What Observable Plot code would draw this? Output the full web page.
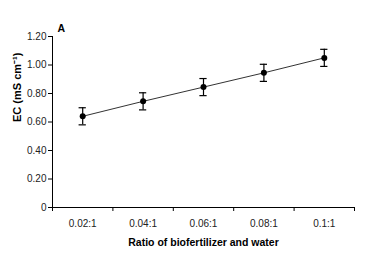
<!DOCTYPE html>
<html><head><meta charset="utf-8">
<script src="https://cdn.jsdelivr.net/npm/d3@7"></script>
<script src="https://cdn.jsdelivr.net/npm/@observablehq/plot@0.6"></script>
<style>body{margin:0;background:#fff;} svg{display:block;}</style>
</head><body><div id="chart"></div>
<script>
const ratios = ["0.02:1", "0.04:1", "0.06:1", "0.08:1", "0.1:1"];
const ec = [0.64, 0.745, 0.845, 0.945, 1.05];
const err = [0.06, 0.06, 0.06, 0.06, 0.06];
const yTicks = [0, 0.2, 0.4, 0.6, 0.8, 1.0, 1.2];

const capHalf = 0.06; // cap half-width in x units (style)
const data = ratios.map((r, i) => ({r, i: i + 0.5, v: ec[i], lo: ec[i] - err[i], hi: ec[i] + err[i]}));
const caps = data.flatMap(d => [{x1: d.i - capHalf, x2: d.i + capHalf, y: d.lo}, {x1: d.i - capHalf, x2: d.i + capHalf, y: d.hi}]);
const font = "'Liberation Sans Narrow', 'Liberation Sans', Arial, sans-serif";

const chart = Plot.plot({
  width: 365, height: 256,
  marginLeft: 52, marginRight: 11, marginTop: 36, marginBottom: 49,
  style: {fontFamily: font, fontSize: "10px", color: "#000", background: "#fff"},
  x: {type: "linear", domain: [0, ratios.length], axis: null},
  y: {domain: [0, 1.2], axis: null},
  marks: [
    Plot.axisY({ticks: yTicks, tickSize: 4, tickPadding: 2, tickFormat: d => d === 0 ? "0" : d3.format(".2f")(d), label: null, fontSize: 10, fill: "#222"}),
    Plot.axisX({ticks: d3.range(ratios.length + 1), tickSize: 4, tickFormat: () => "", label: null}),
    Plot.axisX({ticks: data.map(d => d.i), tickSize: 0, tickPadding: 12, tickFormat: (d, k) => ratios[k], label: null, fontSize: 10, fill: "#222"}),
    Plot.ruleX([0]),
    Plot.ruleY([0]),
    Plot.line(data, {x: "i", y: "v", stroke: "#333", strokeWidth: 1}),
    Plot.ruleX(data, {x: "i", y1: "lo", y2: "hi", stroke: "#000", strokeWidth: 1.2}),
    Plot.ruleY(caps, {x1: "x1", x2: "x2", y: "y", stroke: "#000", strokeWidth: 1.2}),
    Plot.dot(data, {x: "i", y: "v", r: 3, fill: "#000"}),
    Plot.text(["Ratio of biofertilizer and water"], {frameAnchor: "bottom", dy: 38, fontWeight: "bold", fontSize: 10.5}),
    Plot.text(["EC (mS cm⁻¹)"], {frameAnchor: "left", dx: -35, rotate: -90, fontWeight: "bold", fontSize: 11}),
    Plot.text(["A"], {frameAnchor: "top-left", dx: 5, dy: -12, fontWeight: "bold", fontSize: 10.5})
  ]
});
document.getElementById("chart").append(chart);
</script></body></html>
